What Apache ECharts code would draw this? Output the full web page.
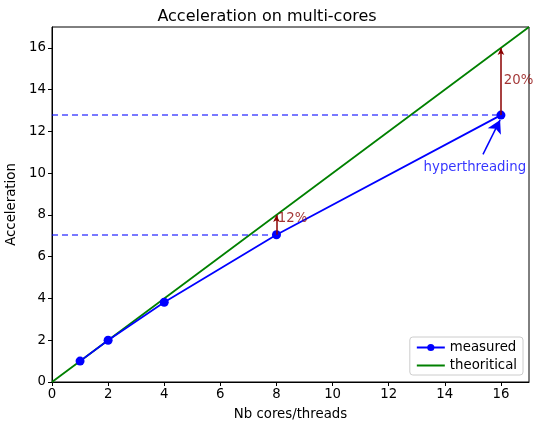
<!DOCTYPE html>
<html><head><meta charset="utf-8">
<script src="https://cdn.jsdelivr.net/npm/echarts@6/dist/echarts.min.js"></script>
<style>html,body{margin:0;padding:0;background:#fff}#c{width:534px;height:422px}</style>
</head><body><div id="c"></div>
<script>
const cores = [1, 2, 4, 8, 16];
const measured = [1, 2, 3.82, 7.05, 12.78];
const theoX = [0, 17];
const theoY = [0, 17];
const xTicks = [0, 2, 4, 6, 8, 10, 12, 14, 16];
const gapLabels = ['12%', '20%'];
const gapCores = [8, 16];
const gapLabelPos = [[8.05, 7.85], [16.1, 14.45]];
const hyperText = 'hyperthreading';
const hyperTextPos = [15.07, 10.25];
const hyperArrow = [[15.36, 10.9], [15.97, 12.55]];

const font = 'DejaVu Sans';
const chart = echarts.init(document.getElementById('c'));
const fs = 13.3;
chart.setOption({
  animation: false,
  textStyle: {fontFamily: font},
  title: {text: 'Acceleration on multi-cores', left: 'center', top: 4,
    textStyle: {fontFamily: font, fontSize: 16, fontWeight: 'normal', color: '#000'}},
  grid: {left: 52, right: 5, top: 27, bottom: 40, show: true, borderColor: '#000', borderWidth: 1,
    containLabel: false, outerBoundsMode: 'none'},
  legend: {orient: 'vertical', right: 11, bottom: 47, padding: [4, 6, 3, 6], itemGap: 5,
    itemWidth: 28, itemHeight: 9, borderColor: '#ccc', borderWidth: 1, borderRadius: 3,
    textStyle: {fontFamily: font, fontSize: fs, color: '#000'},
    data: ['measured', {name: 'theoritical', itemStyle: {opacity: 0}}]},
  xAxis: {type: 'value', min: 0, max: 17, interval: 2,
    name: 'Nb cores/threads', nameLocation: 'middle', nameGap: 26,
    nameTextStyle: {fontFamily: font, fontSize: fs, color: '#000'},
    axisLine: {lineStyle: {color: '#000'}},
    axisTick: {length: 4, lineStyle: {color: '#000'}},
    axisLabel: {fontFamily: font, fontSize: fs, color: '#000', margin: 6,
      showMaxLabel: false,
      formatter: v => xTicks.includes(v) ? String(v) : ''},
    splitLine: {show: false}},
  yAxis: {type: 'value', min: 0, max: 17, interval: 2,
    name: 'Acceleration', nameLocation: 'middle', nameGap: 30,
    nameTextStyle: {fontFamily: font, fontSize: fs, color: '#000'},
    axisLine: {lineStyle: {color: '#000'}},
    axisTick: {length: 4, lineStyle: {color: '#000'}},
    axisLabel: {fontFamily: font, fontSize: fs, color: '#000', margin: 6, showMaxLabel: false},
    splitLine: {show: false}},
  series: [
    {name: 'theoritical', type: 'line', symbol: 'none', z: 3,
      data: theoX.map((x, i) => [x, theoY[i]]),
      lineStyle: {color: '#008000', width: 1.8}, itemStyle: {color: '#008000'}},
    {name: 'measured', type: 'line', symbol: 'circle', symbolSize: 9, z: 4,
      data: cores.map((x, i) => [x, measured[i]]),
      lineStyle: {color: '#0000ff', width: 1.8}, itemStyle: {color: '#0000ff'},
      markLine: {silent: true, symbol: ['none', 'none'], label: {show: false},
        lineStyle: {color: 'rgba(0,0,255,0.7)', type: [6, 4], width: 1.5},
        data: [
          [{coord: [0, measured[3]]}, {coord: [cores[3], measured[3]]}],
          [{coord: [0, measured[4]]}, {coord: [cores[4], measured[4]]}]
        ]}},
    {name: 'gaps', type: 'scatter', symbolSize: 0, z: 5,
      data: gapLabelPos.map((p, i) => ({value: p, label: {show: true, formatter: gapLabels[i]}})),
      label: {position: 'right', distance: 0, color: '#8b0000', fontFamily: font, fontSize: fs},
      markLine: {silent: true, symbol: ['none', 'arrow'], symbolSize: [5, 7], label: {show: false},
        lineStyle: {color: '#8b0000', type: 'solid', width: 1.5},
        data: gapCores.map((c, i) => [{coord: [c, measured[cores.indexOf(c)]]}, {coord: [c, theoY[1] * c / theoX[1]]}])}},
    {name: 'hyper', type: 'scatter', symbolSize: 0, z: 5,
      data: [{value: hyperTextPos, label: {show: true, formatter: hyperText}}],
      label: {position: 'inside', color: '#0000ff', fontFamily: font, fontSize: fs},
      markLine: {silent: true, symbol: ['none', 'arrow'], symbolSize: [11, 13], label: {show: false},
        lineStyle: {color: '#0000ff', type: 'solid', width: 1.5},
        data: [[{coord: hyperArrow[0]}, {coord: hyperArrow[1]}]]}}
  ]
});
</script></body></html>
